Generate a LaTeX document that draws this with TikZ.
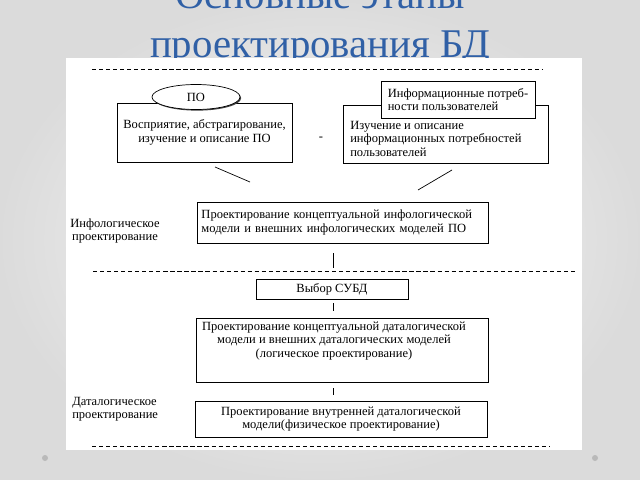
\documentclass[tikz,border=0pt]{standalone}
\usepackage{fontspec}
\setmainfont{Liberation Serif}
\usetikzlibrary{shapes.geometric,shadows}
\definecolor{titleblue}{RGB}{48,96,166}
\tikzset{
  stage/.style={draw, fill=white, line width=0.5pt, inner sep=1pt,
    drop shadow={shadow xshift=0.8pt, shadow yshift=-0.8pt, fill=black!75, opacity=1},
    font=\fontsize{8.9}{9.6}\selectfont},
  stagetext/.style={inner sep=0pt, font=\fontsize{8.9}{9.6}\selectfont},
  phase/.style={inner sep=0pt, font=\fontsize{8.9}{9.6}\selectfont},
  sep/.style={dash pattern=on 3pt off 2pt, line width=0.4pt},
  tick/.style={line width=0.5pt}
}
\begin{document}
\begin{tikzpicture}[x=0.025cm, y=-0.025cm]
\useasboundingbox (0,0) rectangle (640,480);
\shade[inner color=white!96!gray, outer color=gray!28] (0,0) rectangle (640,480);
\node[anchor=base, text=titleblue, font=\fontsize{29}{34}\selectfont] (title1) at (320,8) {Основные этапы};
\node[anchor=base, text=titleblue, font=\fontsize{29}{34}\selectfont] (title2) at (320,57) {проектирования БД};
\fill[white] (66,58) rectangle (582,450);
\fill[gray!55] (45,458) circle (3);
\fill[gray!55] (595,458) circle (3);
% separators
\draw[sep] (92,69) -- (543,69);
\draw[sep] (93,271) -- (575,271);
\draw[sep] (92,446) -- (550,446);
% upper stages
\node[stage, minimum width=4.375cm, minimum height=1.475cm, align=center] (vospr) at (204.5,132.5) {Восприятие, абстрагирование,\\изучение и описание ПО};
\node[stage, drop shadow={opacity=0}, ellipse, minimum width=2.2cm, minimum height=0.625cm, inner sep=0pt] (po) at (196,97) {ПО};
\node[stage, minimum width=5.125cm, minimum height=1.45cm] (izuch) at (445.5,134) {};
\node[stagetext, anchor=north west, align=left] (izuchtxt) at (350,121) {Изучение и описание\\информационных потребностей\\пользователей};
\node[stage, minimum width=3.85cm, minimum height=0.925cm, align=left] (infpotr) at (458,99.5) {Информационные потреб-\\ности пользователей};
\node[phase] (dash) at (321,139) {-};
\coordinate (vosprend) at (215,167);
\coordinate (infolin) at (250,182);
\coordinate (izuchend) at (452,170);
\coordinate (infolin2) at (418,190);
\draw[tick] (vosprend) -- (infolin);
\draw[tick] (izuchend) -- (infolin2);
% infological design
\node[stage, minimum width=7.275cm, minimum height=1.025cm, text width=7.05cm, align=left] (infolog) at (342.5,222.5) {Проектирование концептуальной инфологической\\модели и внешних инфологических моделей ПО};
\node[phase, align=center] (lblinfo) at (115,231) {Инфологическое\\проектирование};
\coordinate (infolog1) at (333,253);
\coordinate (infolog2) at (333,268);
\draw[tick] (infolog1) -- (infolog2);
% DBMS choice and datalogical design
\node[stage, minimum width=3.8cm, minimum height=0.5cm] (vybor) at (332,289) {Выбор СУБД};
\coordinate (vybor1) at (333,303);
\coordinate (vybor2) at (333,311);
\draw[tick] (vybor1) -- (vybor2);
\node[stage, minimum width=7.3cm, minimum height=1.6cm] (datalog) at (342,350) {};
\node[stagetext, align=center] (datalogtxt) at (334,341) {Проектирование концептуальной даталогической\\модели и внешних даталогических моделей\\(логическое проектирование)};
\coordinate (datalog1) at (333,388);
\coordinate (datalog2) at (333,395);
\draw[tick] (datalog1) -- (datalog2);
\node[stage, minimum width=7.3cm, minimum height=0.9cm, align=center] (fizich) at (341,419) {Проектирование внутренней даталогической\\модели(физическое проектирование)};
\node[phase, anchor=north west, align=left] (lbldata) at (72,397) {Даталогическое\\проектирование};
\end{tikzpicture}
\end{document}
